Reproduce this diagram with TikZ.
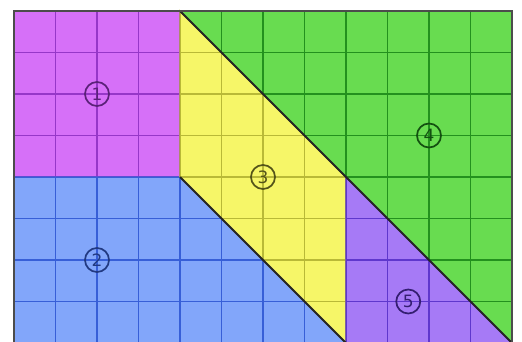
\documentclass[tikz,border=0pt]{standalone}
\usepackage{fontspec}
\setsansfont{DejaVu Sans}
\definecolor{cA}{RGB}{214,112,248}
\definecolor{cAl}{RGB}{150,55,200}
\definecolor{cB}{RGB}{130,166,250}
\definecolor{cBl}{RGB}{55,95,215}
\definecolor{cC}{RGB}{246,246,104}
\definecolor{cCl}{RGB}{185,185,55}
\definecolor{cD}{RGB}{104,220,80}
\definecolor{cDl}{RGB}{35,145,30}
\definecolor{cE}{RGB}{166,122,246}
\definecolor{cEl}{RGB}{95,55,205}
\tikzset{
  gridline/.style={line width=1.4pt},
  cut/.style={line width=1.8pt, draw=black!85, line join=round},
  lab/.style={circle, draw, line width=1.7pt, minimum size=24pt, inner sep=0pt,
    font=\fontsize{17}{17}\selectfont\sffamily},
}
\newcommand{\region}[3]{%
  \fill[#2] #1;
  \begin{scope}
    \clip #1;
    \draw[gridline, draw=#3, step=41.5pt] (0,0) grid (12,-8);
  \end{scope}
  \draw[line width=1.4pt, draw=#3] #1;
}
\begin{document}
\begin{tikzpicture}[x=41.5pt, y=41.5pt]
\useasboundingbox (-14/41.5,11/41.5) rectangle (508/41.5,-331/41.5);
\region{(0,0) -- (4,0) -- (4,-4) -- (0,-4) -- cycle}{cA}{cAl}
\region{(0,-4) -- (4,-4) -- (8,-8) -- (0,-8) -- cycle}{cB}{cBl}
\region{(4,0) -- (8,-4) -- (8,-8) -- (4,-4) -- cycle}{cC}{cCl}
\region{(4,0) -- (12,0) -- (12,-8) -- cycle}{cD}{cDl}
\region{(8,-4) -- (12,-8) -- (8,-8) -- cycle}{cE}{cEl}
\draw[cut] (4,0) -- (12,-8);
\draw[cut] (4,-4) -- (8,-8);
\draw[line width=1.4pt, draw=black!70] (0,0) rectangle (12,-8);
\node[lab, draw=cAl!60!black, text=cAl!60!black] (l1) at (2,-2) {1};
\node[lab, draw=cBl!60!black, text=cBl!60!black] (l2) at (2,-6) {2};
\node[lab, draw=cCl!45!black, text=cCl!45!black] (l3) at (6,-4) {3};
\node[lab, draw=cDl!55!black, text=cDl!55!black] (l4) at (10,-3) {4};
\node[lab, draw=cEl!55!black, text=cEl!55!black] (l5) at (9.5,-7) {5};
\end{tikzpicture}
\end{document}
